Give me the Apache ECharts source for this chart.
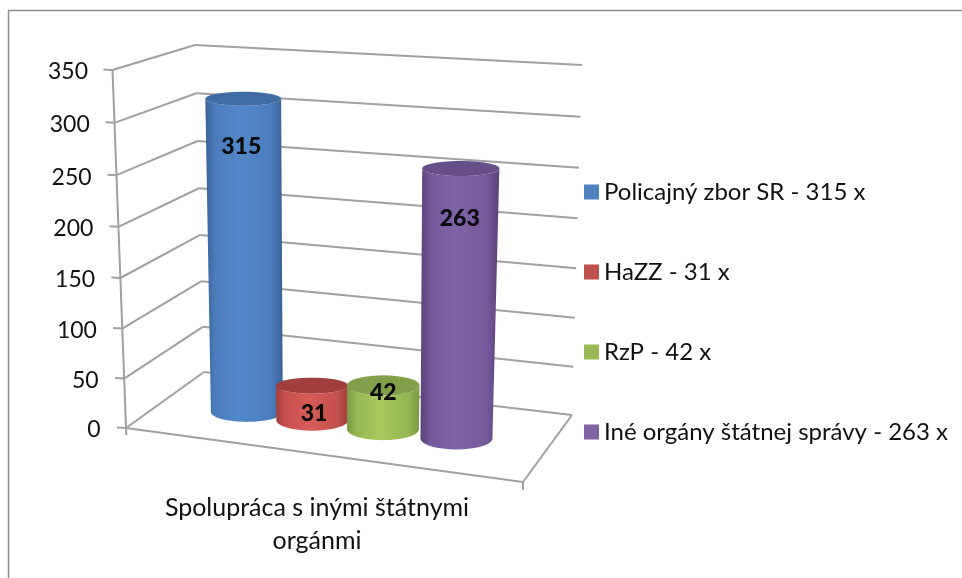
<!DOCTYPE html>
<html><head><meta charset="utf-8">
<style>html,body{margin:0;padding:0;background:#fff}#c{width:962px;height:578px}</style>
<script src="https://cdn.jsdelivr.net/npm/echarts@6/dist/echarts.min.js"></script>
</head><body><div id="c"></div>
<script>
const categories = ['Spolupráca s inými štátnymi\norgánmi'];
const seriesNames = ['Policajný zbor SR - 315 x','HaZZ - 31 x','RzP - 42 x','Iné orgány štátnej správy - 263 x'];
const seriesValues = [315,31,42,263];
const yTicks = [0,50,100,150,200,250,300,350];

const AXIS_MAX = 350;
const colors = ['#4f81bd','#c0504d','#9bbb59','#8064a2'];
const bodyMid = ['#4a7cbb','#c34f4c','#93b552','#73589a'];
const bodyEdge = ['#386295','#a03f3c','#7a9a42','#5a4379'];
const bodyLight = ['#5288ca','#d75c58','#a8ca5d','#8064a8'];
const topFill = ['#3f6ca3','#a23f3d','#82a04a','#664e88'];
const along = [0.214,0.385,0.57,0.762];
const ryTop = [7,8,10,7.5], ryBottom = [10,10.5,11,11];
const topDx = [2,0,0,-0.5], topDy = [0,-3,-1,0], topRx = [0,0,0,1];
const labelDrop = [48,28,7,50];
const labelDx = [-2,2,0,-1];
const HALF = 0.094;

// 3D box corners on screen: f=front, b=back, l=left, r=right, 0=floor, 1=ceiling
const C = {fl0:[126,428],fl1:[112.5,70],fr0:[523,482],fr1:[537,99],bl0:[204,372],bl1:[195,45],br0:[572,415],br1:[582,65]};
const mix=(a,b,t)=>[a[0]+(b[0]-a[0])*t,a[1]+(b[1]-a[1])*t];
function proj(x,d,u){
  const k=u-4*u*(1-u)*3.5/358;
  const f=mix(mix(C.fl0,C.fl1,k),mix(C.fr0,C.fr1,k),x);
  const b=mix(mix(C.bl0,C.bl1,k),mix(C.br0,C.br1,k),x);
  return mix(f,b,d);
}
function uOf(api,v){
  const y0=api.coord([0,0])[1],y1=api.coord([0,AXIS_MAX])[1];
  return (y0-api.coord([0,v])[1])/(y0-y1);
}
const LINE={stroke:'#a0a0a0',lineWidth:2,fill:null};
function line(a,b){return {type:'line',shape:{x1:a[0],y1:a[1],x2:b[0],y2:b[1]},style:LINE};}

function renderWalls(params,api){
  const ch=[];
  yTicks.forEach(v=>{
    const u=uOf(api,v);
    const fl=proj(0,0,u),bl=proj(0,1,u),br=proj(1,1,u);
    ch.push(line([fl[0]-9,fl[1]-0.5],fl),line(fl,bl),line(bl,br));
  });
  const a=proj(0,0,0),t=proj(0,0,1),r=proj(1,0,0),br0=proj(1,1,0);
  ch.push(line(t,[a[0]+0.3,a[1]+7]),line(a,r),line(r,br0),line(r,[r[0],r[1]+8]));
  return {type:'group',silent:true,children:ch};
}
function ellipsePts(c,rx,ry,from,to){
  const p=[];
  for(let i=0;i<=48;i++){const t=from+(to-from)*i/48;p.push([c[0]+rx*Math.cos(t),c[1]+ry*Math.sin(t)]);}
  return p;
}
function renderCyl(i){
  return function(params,api){
    const v=api.value(1);
    const u=uOf(api,v);
    const x=along[i];
    const bl=proj(x-HALF,0.5,0),br=proj(x+HALF,0.5,0);
    const tl=proj(x-HALF,0.5,u),tr=proj(x+HALF,0.5,u);
    const bc=[(bl[0]+br[0])/2,(bl[1]+br[1])/2+1.5],tc=[(tl[0]+tr[0])/2+topDx[i],(tl[1]+tr[1])/2+topDy[i]];
    const brx=(br[0]-bl[0])/2,trx=(tr[0]-tl[0])/2+topRx[i];
    const body=ellipsePts(bc,brx,ryBottom[i],0,Math.PI).concat(ellipsePts(tc,trx,ryTop[i],Math.PI,0));
    const grad=new echarts.graphic.LinearGradient(0,0,1,0,[
      {offset:0,color:bodyEdge[i]},{offset:0.12,color:bodyMid[i]},{offset:0.45,color:bodyLight[i]},
      {offset:0.85,color:bodyMid[i]},{offset:1,color:bodyEdge[i]}]);
    return {type:'group',children:[
      {type:'polygon',shape:{points:body},style:{fill:grad}},
      {type:'polygon',shape:{points:ellipsePts(tc,trx,ryTop[i],0,Math.PI*2)},style:{fill:topFill[i]}},
      {type:'text',z2:10,style:{text:String(v),x:tc[0]+labelDx[i],y:tc[1]+labelDrop[i],align:'center',verticalAlign:'middle',
        font:'900 23px Lato',fill:'#0a0a0a'}}
    ]};
  };
}
// tilted, slightly bent value axis: every tick label is nudged through its own rich style
const rich={};
yTicks.forEach(v=>{
  const u=v/AXIS_MAX;
  const dy=4*u*(1-u)*3.5+2;
  rich['t'+v]={fontFamily:'Lato',fontSize:23,color:'#111',padding:[2*dy,12.5*u,0,0]};
});
const option={
  backgroundColor:'#fff',
  animation:false,
  graphic:[{type:'polyline',silent:true,shape:{points:[[8.5,578],[8.5,10.5],[962,10.5]]},style:{stroke:'#8c8c8c',lineWidth:1.5,fill:null}}],
  legend:{
    left:584,top:180,orient:'vertical',itemWidth:15,itemHeight:15,itemGap:56,
    data:seriesNames.map(n=>({name:n,icon:'rect'})),
    padding:0,selectedMode:false,
    textStyle:{fontFamily:'Lato',fontSize:24,color:'#111'}
  },
  grid:{left:112,right:440,top:70,bottom:150},
  xAxis:{type:'category',data:categories,axisLine:{show:false},axisTick:{show:false},
    axisLabel:{margin:63,fontFamily:'Lato',fontSize:25,lineHeight:33,color:'#111',interval:0}},
  yAxis:{type:'value',min:0,max:AXIS_MAX,interval:50,axisLine:{show:false},axisTick:{show:false},splitLine:{show:false},
    axisLabel:{margin:11.5,align:'right',verticalAlign:'middle',rich,formatter:v=>`{t${v}|${v}}`}},
  series:[
    {type:'custom',name:'walls',silent:true,z:1,renderItem:renderWalls,data:[[0,0]],encode:{x:0,y:1},tooltip:{show:false}}
  ].concat(seriesNames.map((n,i)=>({
    type:'custom',name:n,z:2+i,renderItem:renderCyl(i),itemStyle:{color:colors[i]},
    data:[[0,seriesValues[i]]],encode:{x:0,y:1}
  })))
};
echarts.init(document.getElementById('c'),null,{renderer:'canvas'}).setOption(option);
</script></body></html>
